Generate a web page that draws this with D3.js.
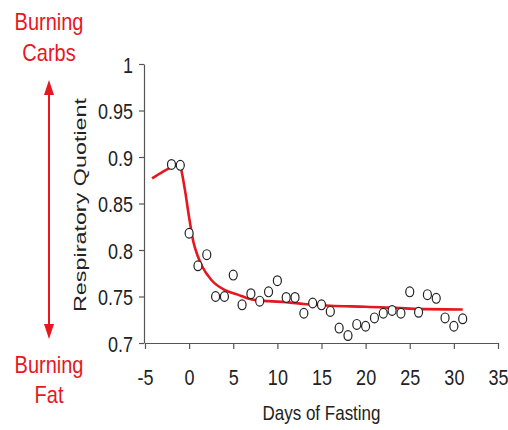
<!DOCTYPE html>
<html>
<head>
<meta charset="utf-8">
<script src="https://cdn.jsdelivr.net/npm/d3@7"></script>
<style>
  body { margin: 0; background: #fff; }
  svg { display: block; font-family: Arial, "Liberation Sans", sans-serif; }
</style>
</head>
<body>
<div id="chart"></div>
<script>
// constants
const width = 508,
    height = 430,
    margin = { top: 64, bottom: 87, left: 144, right: 10 },
    red = "#e8161e",
    stretch = 1.2; // the source picture is a bit taller than it is wide

// data: measured days and respiratory quotient
const days = [-2, -1, 0, 1, 2, 3, 4, 5, 6, 7, 8, 9, 10, 11, 12, 13, 14, 15, 16,
    17, 18, 19, 20, 21, 22, 23, 24, 25, 26, 27, 28, 29, 30, 31];
const rq = [0.892, 0.891, 0.818, 0.783, 0.795, 0.750, 0.750, 0.773, 0.741, 0.753,
    0.745, 0.755, 0.767, 0.749, 0.749, 0.732, 0.743, 0.741, 0.734, 0.716, 0.708,
    0.720, 0.718, 0.727, 0.732, 0.735, 0.732, 0.755, 0.733, 0.752, 0.748, 0.727,
    0.718, 0.726];

// fitted red curve
const fitDays = [-4.2, -3, -2, -1.3, -1, -0.5, 0, 0.5, 1, 1.5, 2.5, 4, 5.5, 7, 9,
    11, 13, 16, 20, 25, 31];
const fitRq = [0.877, 0.884, 0.889, 0.891, 0.889, 0.866, 0.835, 0.808, 0.793,
    0.782, 0.768, 0.757, 0.752, 0.747, 0.745, 0.744, 0.742, 0.740, 0.739, 0.737, 0.736];

// ticks
const xTicks = [-5, 0, 5, 10, 15, 20, 25, 30, 35];
const yTicks = [0.7, 0.75, 0.8, 0.85, 0.9, 0.95, 1];

const points = days.map((d, i) => ({ day: d, rq: rq[i] }));
const fit = fitDays.map((d, i) => ({ day: d, rq: fitRq[i] }));

const svg = d3.select("#chart")
    .append("svg")
    .attr("width", width)
    .attr("height", height);

const xScale = d3.scaleLinear()
    .domain([-5, 35])
    .range([margin.left + 1, width - margin.right]);

const yScale = d3.scaleLinear()
    .domain([0.7, 1])
    .range([height - margin.bottom, margin.top]);

// axes
const xAxis = d3.axisBottom(xScale)
    .tickValues(xTicks)
    .tickFormat(d => String(d))
    .tickSize(6)
    .tickSizeOuter(0)
    .tickPadding(9);

const yAxis = d3.axisLeft(yScale)
    .tickValues(yTicks)
    .tickFormat(d => String(+d.toFixed(2)))
    .tickSize(5)
    .tickSizeOuter(0)
    .tickPadding(6);

const gx = svg.append("g")
    .attr("transform", `translate(0,${height - margin.bottom})`)
    .call(xAxis);

const gy = svg.append("g")
    .attr("transform", `translate(${margin.left},0)`)
    .call(yAxis);

[gx, gy].forEach(g => {
    g.selectAll("path, line").attr("stroke", "#555").attr("stroke-width", 1.2);
    g.selectAll("text")
        .attr("font-size", 18)
        .attr("font-family", "Arial, 'Liberation Sans', sans-serif")
        .attr("fill", "#222");
});

// tick labels are vertically stretched like the source picture
gx.selectAll(".tick text")
    .attr("y", 0)
    .attr("dy", 0)
    .attr("transform", `translate(0,42) scale(1,${stretch})`);
gy.selectAll(".tick text")
    .attr("dy", 0)
    .attr("transform", `translate(0,8) scale(1,${stretch})`);

// fitted line
const line = d3.line()
    .x(d => xScale(d.day))
    .y(d => yScale(d.rq))
    .curve(d3.curveMonotoneX);

svg.append("path")
    .datum(fit)
    .attr("d", line)
    .attr("fill", "none")
    .attr("stroke", red)
    .attr("stroke-width", 2.6);

// data points
svg.append("g")
    .selectAll("ellipse")
    .data(points)
    .join("ellipse")
    .attr("cx", d => xScale(d.day))
    .attr("cy", d => yScale(d.rq))
    .attr("rx", 4)
    .attr("ry", 4.9)
    .attr("fill", "white")
    .attr("stroke", "#222")
    .attr("stroke-width", 1.2);

// axis titles
svg.append("text")
    .attr("transform", `translate(${(xScale(-5) + xScale(35)) / 2},420) scale(1,${stretch})`)
    .attr("text-anchor", "middle")
    .attr("font-size", 17)
    .attr("fill", "#222")
    .text("Days of Fasting");

svg.append("text")
    .attr("transform", "translate(86,205) rotate(-90)")
    .attr("text-anchor", "middle")
    .attr("font-size", 16)
    .attr("textLength", 214)
    .attr("lengthAdjust", "spacingAndGlyphs")
    .attr("fill", "#222")
    .text("Respiratory Quotient");

// red side annotation
const side = svg.append("g").attr("fill", red);

[["Burning", 30], ["Carbs", 61], ["Burning", 373], ["Fat", 403]].forEach(([t, y]) => {
    side.append("text")
        .attr("transform", `translate(49,${y}) scale(1,${stretch})`)
        .attr("text-anchor", "middle")
        .attr("font-size", 20)
        .text(t);
});

const arrowX = 49, arrowTop = 80, arrowBottom = 339;
side.append("line")
    .attr("x1", arrowX).attr("x2", arrowX)
    .attr("y1", arrowTop + 10).attr("y2", arrowBottom - 10)
    .attr("stroke", red)
    .attr("stroke-width", 2);
side.append("path")
    .attr("d", `M${arrowX},${arrowTop} L${arrowX - 5},${arrowTop + 15} L${arrowX + 5},${arrowTop + 15} Z`);
side.append("path")
    .attr("d", `M${arrowX},${arrowBottom} L${arrowX - 5},${arrowBottom - 15} L${arrowX + 5},${arrowBottom - 15} Z`);
</script>
</body>
</html>
